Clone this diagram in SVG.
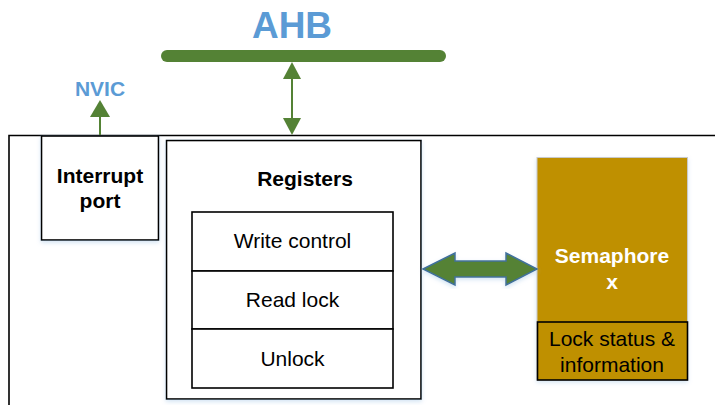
<svg xmlns="http://www.w3.org/2000/svg" width="715" height="405" viewBox="0 0 715 405">
<style>
.box{fill:#fff;stroke:#000;stroke-width:1.6}
.b{font-family:"Liberation Sans",Arial,sans-serif;font-weight:bold;font-size:21px;text-anchor:middle}
.r{font-family:"Liberation Sans",Arial,sans-serif;font-size:21px;text-anchor:middle;fill:#000}
.blue{fill:#5B9BD5}
.g{stroke:#548235;stroke-width:2;fill:none}
.gh{fill:#548235}
</style>
<defs>
<filter id="sh" x="-10%" y="-10%" width="120%" height="120%">
<feDropShadow dx="0" dy="2" stdDeviation="2" flood-color="#9DC3E6" flood-opacity="0.45"/>
</filter>
</defs>
<rect width="715" height="405" fill="#fff"/>
<g id="frame">
<path d="M9,405 V135.5 H715" fill="none" stroke="#000" stroke-width="1.6"/>
</g>
<g id="ahb">
<line x1="167" y1="56" x2="440" y2="56" stroke="#548235" stroke-width="12" stroke-linecap="round"/>
<text class="b blue" x="292" y="38" style="font-size:37px">AHB</text>
</g>
<g id="nvic">
<text class="b blue" x="100" y="96">NVIC</text>
</g>
<g id="interrupt">
<rect class="box" x="41.5" y="136" width="117" height="104" filter="url(#sh)"/>
<text class="b" x="100" y="183">Interrupt</text>
<text class="b" x="100" y="208">port</text>
</g>
<g id="registers">
<rect class="box" x="166.5" y="140.5" width="254.5" height="258.5" filter="url(#sh)"/>
<text class="b" x="305" y="186">Registers</text>
<rect class="box" x="192" y="212" width="201" height="59"/>
<text class="r" x="292.5" y="248">Write control</text>
<rect class="box" x="192" y="271" width="201" height="58"/>
<text class="r" x="292.5" y="307">Read lock</text>
<rect class="box" x="192" y="329" width="201" height="59"/>
<text class="r" x="292.5" y="366">Unlock</text>
</g>
<g id="semaphore">
<rect x="537" y="157.5" width="150.5" height="222.5" fill="#BF9000" stroke="#C9C9C9" stroke-width="1" filter="url(#sh)"/>
<text class="b" x="612" y="263" fill="#fff">Semaphore</text>
<text class="b" x="612" y="289" fill="#fff">x</text>
<rect x="537.5" y="322" width="150" height="58" fill="#BF9000" stroke="#000" stroke-width="1.6"/>
<text class="r" x="612" y="346">Lock status &amp;</text>
<text class="r" x="612" y="372">information</text>
</g>
<g id="connectors">
<line class="g" x1="292" y1="76" x2="292" y2="120"/>
<polygon class="gh" points="292,62 283,79 301,79"/>
<polygon class="gh" points="292,135 283,118 301,118"/>
<line class="g" x1="100" y1="116" x2="100" y2="135"/>
<polygon class="gh" points="100,100 90,117 110,117"/>
<path d="M423,269 L455,253 L455,261 L506,261 L506,253 L537,269 L506,285 L506,277 L455,277 L455,285 Z" fill="#548235" stroke="#41719C" stroke-width="1.5" stroke-linejoin="miter" filter="url(#sh)"/>
</g>
</svg>
